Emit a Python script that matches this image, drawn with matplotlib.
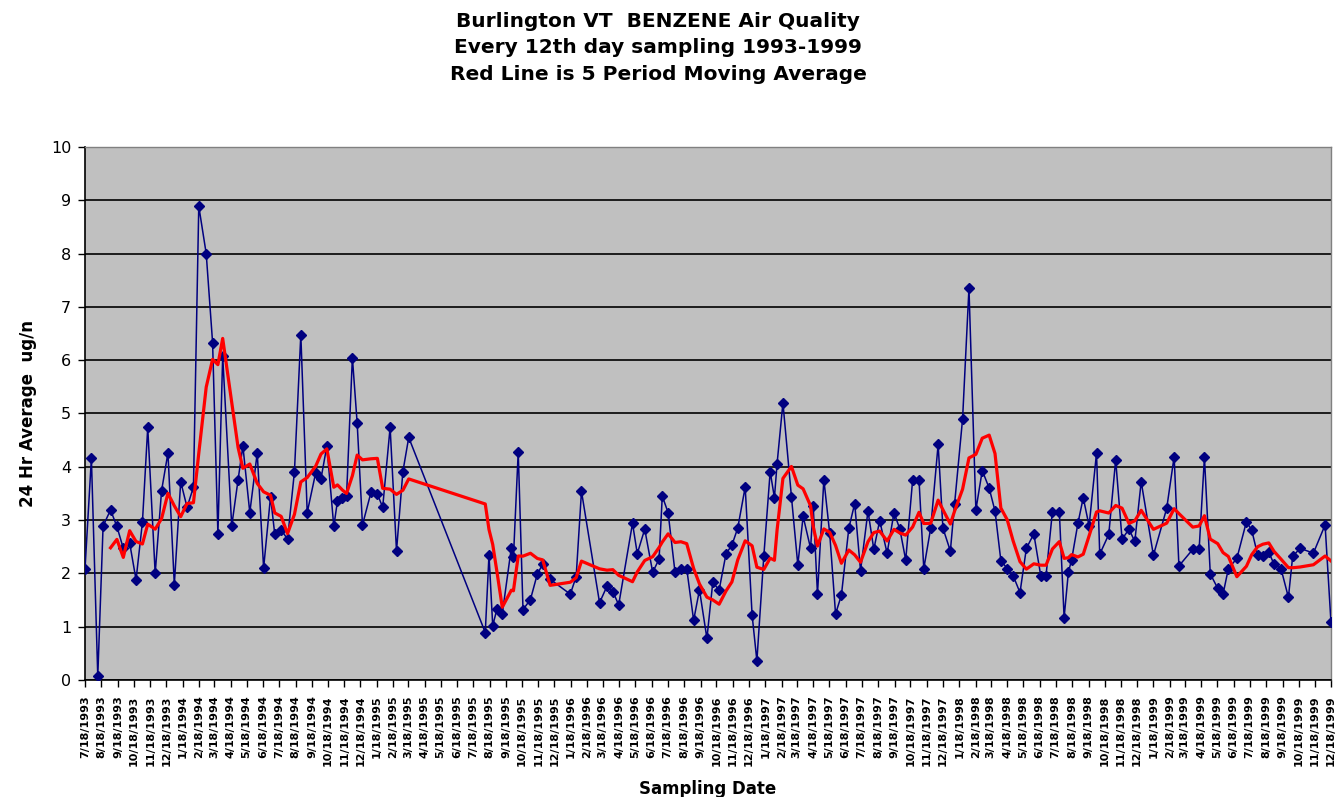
import pandas as pd
import matplotlib
matplotlib.use("Agg")
import matplotlib.pyplot as plt
import matplotlib.dates as mdates
from matplotlib.ticker import FuncFormatter, MultipleLocator

# Sampling days, counted from 7/18/1993
sample_day = [0, 12, 24, 34, 48, 60, 72, 84, 96, 108,
              118, 132, 144, 156, 168, 180, 192, 204, 214, 228,
              240, 250, 259, 276, 288, 297, 310, 324, 336, 349,
              357, 369, 381, 394, 406, 418, 434, 444, 455, 468,
              475, 484, 492, 503, 512, 522, 538, 550, 560, 574,
              586, 598, 609, 753, 760, 767, 775, 785, 802, 806,
              815, 824, 838, 851, 861, 875, 913, 924, 934, 968,
              982, 993, 1004, 1030, 1039, 1053, 1068, 1080, 1086, 1097,
              1110, 1121, 1132, 1145, 1156, 1170, 1181, 1193, 1206, 1217,
              1228, 1242, 1255, 1264, 1277, 1289, 1297, 1302, 1313, 1329,
              1341, 1351, 1365, 1370, 1378, 1390, 1401, 1412, 1423, 1437,
              1448, 1459, 1473, 1484, 1495, 1509, 1522, 1533, 1544, 1557,
              1569, 1578, 1591, 1605, 1614, 1628, 1636, 1651, 1663, 1676,
              1688, 1701, 1712, 1723, 1735, 1746, 1759, 1771, 1785, 1798,
              1808, 1820, 1833, 1842, 1850, 1856, 1868, 1878, 1889, 1903,
              1909, 1926, 1939, 1951, 1964, 1975, 1987, 2010, 2035, 2049,
              2058, 2084, 2096, 2106, 2117, 2131, 2141, 2151, 2167, 2185,
              2195, 2206, 2216, 2227, 2237, 2250, 2264, 2272, 2286, 2311,
              2333, 2344]

# 24 hr average benzene, ug/m3
benzene = [2.09, 4.16, 0.07, 2.89, 3.19, 2.88, 2.47, 2.57, 1.88, 2.96,
           4.74, 2.00, 3.55, 4.26, 1.79, 3.72, 3.24, 3.62, 8.89, 8.00,
           6.33, 2.74, 6.08, 2.89, 3.76, 4.39, 3.14, 4.26, 2.10, 3.44,
           2.73, 2.82, 2.64, 3.91, 6.48, 3.14, 3.89, 3.78, 4.39, 2.88,
           3.36, 3.42, 3.45, 6.05, 4.82, 2.91, 3.52, 3.49, 3.24, 4.74,
           2.42, 3.91, 4.55, 0.89, 2.35, 1.02, 1.33, 1.24, 2.48, 2.30,
           4.28, 1.32, 1.51, 1.99, 2.17, 1.89, 1.61, 1.94, 3.54, 1.45,
           1.76, 1.66, 1.41, 2.94, 2.37, 2.83, 2.02, 2.27, 3.45, 3.14,
           2.02, 2.09, 2.09, 1.12, 1.69, 0.78, 1.83, 1.69, 2.37, 2.53,
           2.85, 3.62, 1.22, 0.36, 2.32, 3.91, 3.42, 4.06, 5.20, 3.44,
           2.16, 3.07, 2.47, 3.26, 1.61, 3.76, 2.75, 1.24, 1.59, 2.85,
           3.31, 2.05, 3.17, 2.45, 2.99, 2.38, 3.14, 2.83, 2.25, 3.75,
           3.76, 2.09, 2.85, 4.42, 2.85, 2.42, 3.31, 4.90, 7.35, 3.19,
           3.93, 3.60, 3.17, 2.24, 2.09, 1.96, 1.64, 2.47, 2.74, 1.96,
           1.96, 3.16, 3.16, 1.17, 2.02, 2.25, 2.94, 3.42, 2.89, 4.26,
           2.36, 2.73, 4.13, 2.64, 2.83, 2.60, 3.72, 2.34, 3.22, 4.19,
           2.14, 2.45, 2.45, 4.18, 1.99, 1.72, 1.61, 2.09, 2.28, 2.97,
           2.81, 2.35, 2.33, 2.40, 2.17, 2.09, 1.55, 2.32, 2.47, 2.38,
           2.91, 1.09]

start = pd.Timestamp("1993-07-18")
end = pd.Timestamp("1999-12-18")

df = pd.DataFrame({"day": sample_day, "value": benzene})
df["date"] = start + pd.to_timedelta(df["day"], unit="D")
# 5 period moving average (Excel trendline)
df["ma"] = df["value"].rolling(5).mean()

plt.rcParams["font.family"] = ["DejaVu Sans"]

fig = plt.figure(figsize=(13.41, 7.97), dpi=100)
ax = fig.add_axes([0.0634, 0.1468, 0.9291, 0.6688])
ax.set_facecolor("#c0c0c0")

ax.plot(df["date"], df["value"], color="#000080", linewidth=1.1,
        marker="D", markersize=5.5, markerfacecolor="#000080",
        markeredgecolor="#000080", zorder=3)
ax.plot(df["date"], df["ma"], color="#ff0000", linewidth=2.3, zorder=4)

ax.set_ylim(0, 10)
ax.yaxis.set_major_locator(MultipleLocator(1))
ax.set_xlim(start, end)
ax.xaxis.set_major_locator(mdates.MonthLocator(bymonthday=18))
ax.xaxis.set_major_formatter(FuncFormatter(
    lambda x, pos: "{d.month}/{d.day}/{d.year}".format(d=mdates.num2date(x))))

ax.grid(axis="y", color="black", linewidth=1.2)
ax.grid(axis="x", visible=False)
ax.set_axisbelow(True)

for side in ["top", "right"]:
    ax.spines[side].set_color("#808080")
    ax.spines[side].set_linewidth(1.0)
for side in ["left", "bottom"]:
    ax.spines[side].set_color("black")
    ax.spines[side].set_linewidth(1.2)

ax.tick_params(axis="y", direction="out", length=5, width=1, labelsize=11.5, pad=5)
ax.tick_params(axis="x", direction="out", length=5, width=1, pad=6)
for lbl in ax.get_xticklabels():
    lbl.set_rotation(90)
    lbl.set_fontsize(8)
    lbl.set_fontweight("bold")

ax.set_ylabel("24 Hr Average  ug/n", fontsize=12, fontweight="bold", labelpad=10)
ax.set_xlabel("Sampling Date", fontsize=12, fontweight="bold", labelpad=10)

fig.text(0.491, 0.94, "Burlington VT  BENZENE Air Quality\n"
         "Every 12th day sampling 1993-1999\n"
         "Red Line is 5 Period Moving Average",
         ha="center", va="center", fontsize=14.5, fontweight="bold",
         linespacing=1.5)

fig.savefig("out.png", dpi=100)
